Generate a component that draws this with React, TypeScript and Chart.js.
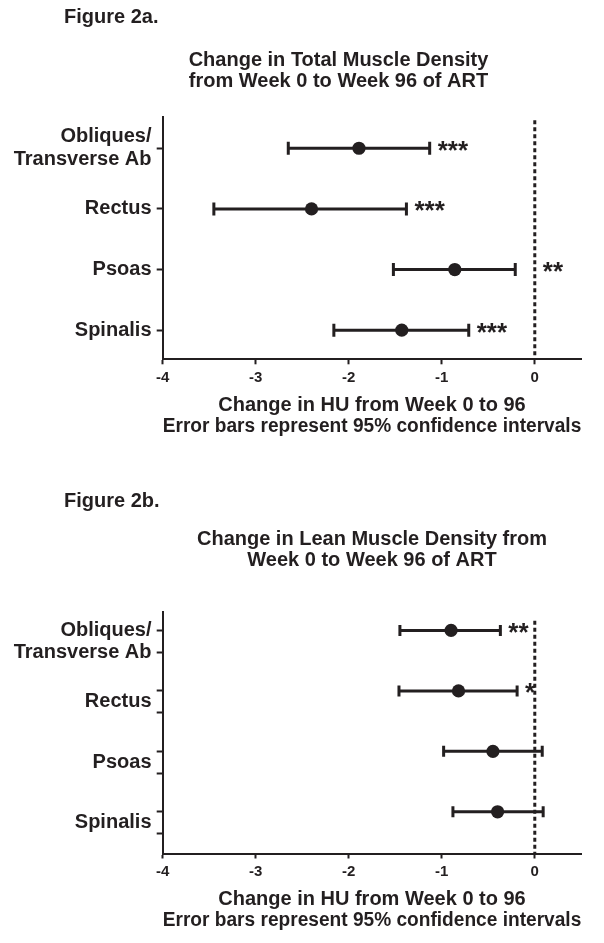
import React, { useEffect, useRef } from 'react';
import { Chart, registerables } from 'chart.js';

Chart.register(...registerables);

const INK = '#231f20';
const FAMILY = '"Liberation Sans", Arial, Helvetica, sans-serif';

// ---- data ----
const muscleLabels: (string | string[])[] = [['Obliques/', 'Transverse Ab'], 'Rectus', 'Psoas', 'Spinalis'];

// Figure 2a: total muscle density
const totalMean = [-1.89, -2.40, -0.86, -1.43];
const totalLower = [-2.65, -3.45, -1.52, -2.16];
const totalUpper = [-1.13, -1.38, -0.21, -0.71];
const totalSig = ['***', '***', '**', '***'];

// Figure 2b: lean muscle density
const leanMean = [-0.90, -0.82, -0.45, -0.40];
const leanLower = [-1.45, -1.46, -0.98, -0.88];
const leanUpper = [-0.37, -0.19, 0.08, 0.09];
const leanSig = ['**', '*', '', ''];

const xTickValues = [-4, -3, -2, -1, 0];
const xMin = -4;
const xMax = 0.5;

const titleTotal = ['Change in Total Muscle Density', 'from Week 0 to Week 96 of ART'];
const titleLean = ['Change in Lean Muscle Density from', 'Week 0 to Week 96 of ART'];
const xAxisTitle = ['Change in HU from Week 0 to 96', 'Error bars represent 95% confidence intervals'];
const figureLabels = ['Figure 2a.', 'Figure 2b.'];

type TickDef = { value: number; label: string | string[]; mark: boolean };

const yTicksTotal: TickDef[] = muscleLabels.map((l, i) => ({ value: i, label: l, mark: true }));
const yTicksLean: TickDef[] = [];
muscleLabels.forEach((l, i) => {
  yTicksLean.push({ value: i, label: '', mark: true });
  yTicksLean.push({ value: i + 0.18, label: l, mark: false });
  yTicksLean.push({ value: i + 0.36, label: '', mark: true });
});

type Spec = {
  mean: number[];
  lower: number[];
  upper: number[];
  sig: string[];
  title: string[];
  titleTop: number;
  titleBottom: number;
  titleShift: number;
  padBottom: number;
  yMin: number;
  yMax: number;
  yTicks: TickDef[];
  yLabelLH: number;
  zeroGap: number;
  capHeight: number;
};

const specA: Spec = {
  mean: totalMean, lower: totalLower, upper: totalUpper, sig: totalSig, title: titleTotal,
  titleTop: 41.15, titleBottom: 24.15, titleShift: -33.5, padBottom: 33.5,
  yMin: -0.52, yMax: 3.48, yTicks: yTicksTotal, yLabelLH: 1.165, zeroGap: 3.5, capHeight: 13,
};

const specB: Spec = {
  mean: leanMean, lower: leanLower, upper: leanUpper, sig: leanSig, title: titleLean,
  titleTop: 58.15, titleBottom: 40.15, titleShift: 0, padBottom: 4.3,
  yMin: -0.31, yMax: 3.69, yTicks: yTicksLean, yLabelLH: 1.1, zeroGap: 9, capHeight: 11,
};

const PAD_LEFT = 2;
const PLOT_LEFT = 154.7;
const PAD_RIGHT = 14.7;

function buildConfig(spec: Spec): any {
  const titleOffset = {
    id: 'titleOffset',
    afterLayout(chart: any) {
      const t = chart.titleBlock;
      if (t && spec.titleShift) {
        t.left += spec.titleShift;
        t.right += spec.titleShift;
      }
    },
  };
  const zeroLine = {
    id: 'zeroLine',
    beforeDatasetsDraw(chart: any) {
      const { ctx, chartArea, scales } = chart;
      const px = scales.x.getPixelForValue(0);
      ctx.save();
      ctx.strokeStyle = INK;
      ctx.lineWidth = 3;
      ctx.setLineDash([4, 3]);
      ctx.beginPath();
      ctx.moveTo(px, chartArea.top + spec.zeroGap);
      ctx.lineTo(px, chartArea.bottom);
      ctx.stroke();
      ctx.restore();
    },
  };
  const errorBars = {
    id: 'errorBars',
    beforeDatasetsDraw(chart: any) {
      const { ctx, scales } = chart;
      const h = spec.capHeight / 2;
      ctx.save();
      ctx.strokeStyle = INK;
      ctx.lineWidth = 3;
      ctx.setLineDash([]);
      spec.lower.forEach((lo, i) => {
        const py = scales.y.getPixelForValue(i);
        const x1 = scales.x.getPixelForValue(lo);
        const x2 = scales.x.getPixelForValue(spec.upper[i]);
        ctx.beginPath();
        ctx.moveTo(x1, py);
        ctx.lineTo(x2, py);
        ctx.moveTo(x1, py - h);
        ctx.lineTo(x1, py + h);
        ctx.moveTo(x2, py - h);
        ctx.lineTo(x2, py + h);
        ctx.stroke();
      });
      ctx.restore();
    },
  };
  const sigMarks = {
    id: 'sigMarks',
    afterDatasetsDraw(chart: any) {
      const { ctx, scales } = chart;
      const size = 26;
      const gap = 8;
      ctx.save();
      ctx.fillStyle = INK;
      ctx.font = `bold ${size}px ${FAMILY}`;
      ctx.textAlign = 'left';
      ctx.textBaseline = 'alphabetic';
      const zero = scales.x.getPixelForValue(0);
      spec.sig.forEach((s, i) => {
        if (!s) return;
        const py = scales.y.getPixelForValue(i);
        const w = ctx.measureText(s).width;
        let x = scales.x.getPixelForValue(spec.upper[i]) + gap;
        if (x + w > zero + 3) x = zero + gap;
        ctx.fillText(s, x, py + size * 0.56 - 4);
      });
      ctx.restore();
    },
  };

  return {
    type: 'scatter',
    data: {
      datasets: [
        {
          data: spec.mean.map((m, i) => ({ x: m, y: i })),
          pointRadius: 6.6,
          pointHoverRadius: 6.6,
          pointBackgroundColor: INK,
          pointBorderColor: INK,
          pointBorderWidth: 0,
          showLine: false,
        },
      ],
    },
    options: {
      responsive: false,
      animation: false,
      events: [],
      layout: { padding: { left: PAD_LEFT, right: PAD_RIGHT, top: 0, bottom: spec.padBottom } },
      plugins: {
        legend: { display: false },
        tooltip: { enabled: false },
        title: {
          display: true,
          text: spec.title,
          color: INK,
          fullSize: false,
          font: { family: FAMILY, weight: 'bold', size: 20, lineHeight: 21.7 / 20 },
          padding: { top: spec.titleTop, bottom: spec.titleBottom },
        },
      },
      scales: {
        x: {
          type: 'linear',
          min: xMin,
          max: xMax,
          afterBuildTicks: (s: any) => {
            s.ticks = xTickValues.map((v) => ({ value: v }));
          },
          afterFit: (s: any) => {
            s.height = 77.2;
          },
          ticks: {
            color: INK,
            font: { family: FAMILY, weight: 'bold', size: 15 },
            padding: 4.7,
            autoSkip: false,
            maxRotation: 0,
            callback: (v: any) => String(v),
          },
          grid: { drawOnChartArea: false, drawTicks: true, tickLength: 5, tickWidth: 2, tickColor: INK },
          border: { display: true, color: INK, width: 2 },
          title: {
            display: true,
            text: xAxisTitle,
            color: INK,
            font: { family: FAMILY, weight: 'bold', size: 20, lineHeight: 1.05 },
            padding: { top: 0, bottom: 0 },
          },
        },
        y: {
          type: 'linear',
          reverse: true,
          min: spec.yMin,
          max: spec.yMax,
          afterBuildTicks: (s: any) => {
            s.ticks = spec.yTicks.map((t) => ({ value: t.value }));
          },
          afterFit: (s: any) => {
            s.width = PLOT_LEFT - PAD_LEFT;
          },
          ticks: {
            color: INK,
            font: { family: FAMILY, weight: 'bold', size: 20, lineHeight: spec.yLabelLH },
            padding: 5.2,
            autoSkip: false,
            callback: (_v: any, i: number) => (spec.yTicks[i] ? spec.yTicks[i].label : ''),
          },
          grid: {
            drawOnChartArea: false,
            drawTicks: true,
            tickLength: 6,
            tickWidth: 2,
            tickColor: (c: any) => (spec.yTicks[c.index] && spec.yTicks[c.index].mark ? INK : 'rgba(0,0,0,0)'),
          },
          border: { display: true, color: INK, width: 2 },
        },
      },
    },
    plugins: [titleOffset, zeroLine, errorBars, sigMarks],
  };
}

function ForestChart({ spec, width, height }: { spec: Spec; width: number; height: number }) {
  const ref = useRef<HTMLCanvasElement>(null);
  useEffect(() => {
    const chart = new Chart(ref.current as HTMLCanvasElement, buildConfig(spec));
    return () => chart.destroy();
  }, [spec]);
  return <canvas ref={ref} width={width} height={height} style={{ display: 'block', width, height }} />;
}

const figStyle = (top: number): React.CSSProperties => ({
  position: 'absolute',
  left: 56,
  top,
  font: `bold 20px ${FAMILY}`,
  lineHeight: '20px',
  color: INK,
  whiteSpace: 'nowrap',
});

export default function App() {
  return (
    <div style={{ position: 'relative', width: 588, height: 927 }}>
      <div style={{ position: 'absolute', left: 0, top: 0 }}>
        <ForestChart spec={specA} width={588} height={462} />
      </div>
      <div style={{ position: 'absolute', left: 0, top: 462 }}>
        <ForestChart spec={specB} width={588} height={465} />
      </div>
      <div style={figStyle(-2)}>{figureLabels[0]}</div>
      <div style={figStyle(482)}>{figureLabels[1]}</div>
    </div>
  );
}
